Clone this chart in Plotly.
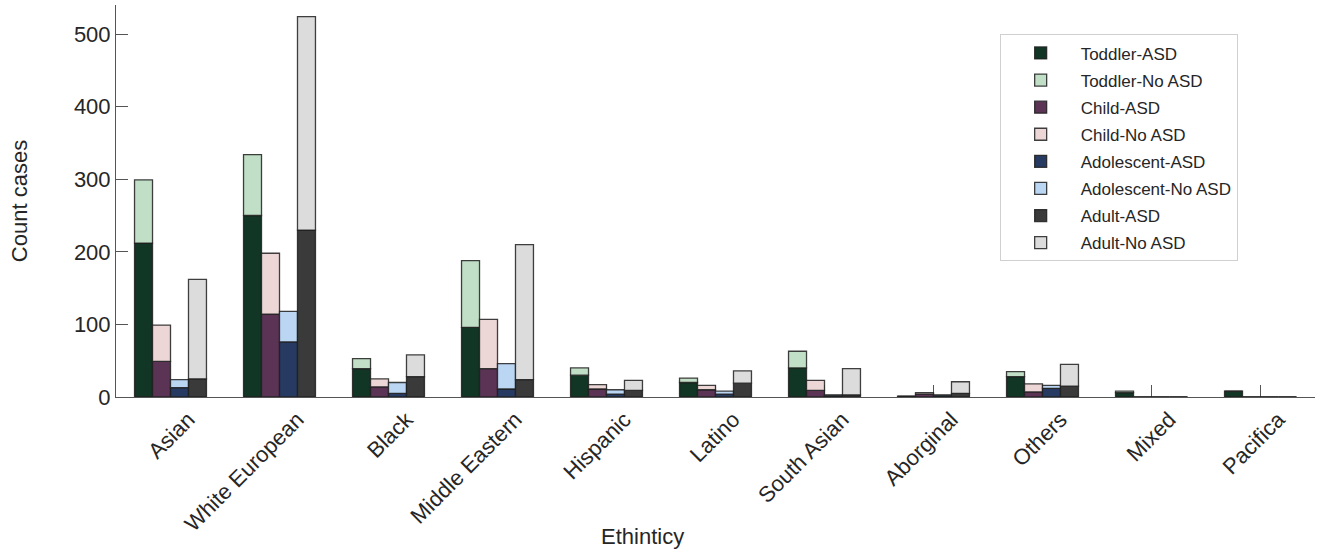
import plotly.graph_objects as go

categories = ["Asian", "White European", "Black", "Middle Eastern", "Hispanic", "Latino",
              "South Asian", "Aborginal", "Others", "Mixed", "Pacifica"]

toddler_asd    = [212, 250, 39, 96, 30, 20, 40, 1, 28, 6, 8]
toddler_no     = [87, 84, 14, 92, 10, 6, 23, 0, 7, 2, 0]
child_asd      = [49, 114, 14, 39, 11, 10, 9, 4, 7, 0, 0]
child_no       = [50, 84, 11, 68, 6, 6, 14, 2, 11, 0, 0]
adolescent_asd = [13, 76, 5, 11, 4, 4, 2, 2, 12, 0, 0]
adolescent_no  = [11, 42, 15, 35, 6, 4, 1, 1, 4, 0, 0]
adult_asd      = [25, 230, 28, 24, 9, 19, 3, 5, 15, 0, 0]
adult_no       = [137, 294, 30, 186, 14, 17, 36, 16, 30, 0, 0]

series = [
    ("Toddler-ASD", toddler_asd, None, "g1", "#123625"),
    ("Toddler-No ASD", toddler_no, toddler_asd, "g1", "#c1dfc6"),
    ("Child-ASD", child_asd, None, "g2", "#5a3355"),
    ("Child-No ASD", child_no, child_asd, "g2", "#ecd6d6"),
    ("Adolescent-ASD", adolescent_asd, None, "g3", "#263a62"),
    ("Adolescent-No ASD", adolescent_no, adolescent_asd, "g3", "#bbd6f3"),
    ("Adult-ASD", adult_asd, None, "g4", "#3a3a3a"),
    ("Adult-No ASD", adult_no, adult_asd, "g4", "#dcdcdc"),
]

x_idx = list(range(len(categories)))

fig = go.Figure()
for name, vals, base, grp, col in series:
    fig.add_trace(go.Bar(
        x=x_idx, y=vals, base=base if base is not None else [0] * len(vals),
        name=name, offsetgroup=grp, legendgroup=name,
        marker=dict(color=col, line=dict(color="rgba(30,30,30,0.85)", width=1.3)),
    ))

font_family = "Liberation Sans, Arial, sans-serif"
fig.update_layout(
    barmode="group",
    bargap=0.34,
    bargroupgap=0,
    width=1323, height=556,
    margin=dict(l=116, r=8, t=5, b=159, autoexpand=False),
    plot_bgcolor="white", paper_bgcolor="white",
    font=dict(family=font_family, color="#262626"),
    showlegend=True,
    legend=dict(
        x=0.737, y=0.925, xanchor="left", yanchor="top",
        bordercolor="#d0d0d0", borderwidth=1, bgcolor="white",
        font=dict(size=17, family=font_family, color="#262626"),
        tracegroupgap=2, itemwidth=70, traceorder="grouped",
    ),
    xaxis=dict(
        range=[-0.5, 10.5], tickmode="array", tickvals=x_idx, ticktext=categories,
        tickangle=-45, tickfont=dict(size=22), ticks="inside", ticklen=12,
        ticklabelshift=18,
        tickcolor="#555", showline=True, linecolor="#555", linewidth=1,
        showgrid=False, zeroline=False, layer="below traces", automargin=False,
    ),
    yaxis=dict(
        range=[0, 540], tickvals=[0, 100, 200, 300, 400, 500],
        tickfont=dict(size=22), ticks="inside", ticklen=12, tickcolor="#555",
        showline=True, linecolor="#555", linewidth=1, showgrid=False, zeroline=False,
        automargin=False,
        title=dict(text="Count cases", font=dict(size=22), standoff=40),
    ),
    annotations=[dict(
        text="Ethinticy", xref="paper", yref="paper", x=0.4395, y=-0.356,
        xanchor="center", yanchor="middle", showarrow=False,
        font=dict(size=22, family=font_family, color="#262626"),
    )],
)

fig.write_html("out.html", config={"displayModeBar": False},
               post_script="document.body.style.margin='0px';")
